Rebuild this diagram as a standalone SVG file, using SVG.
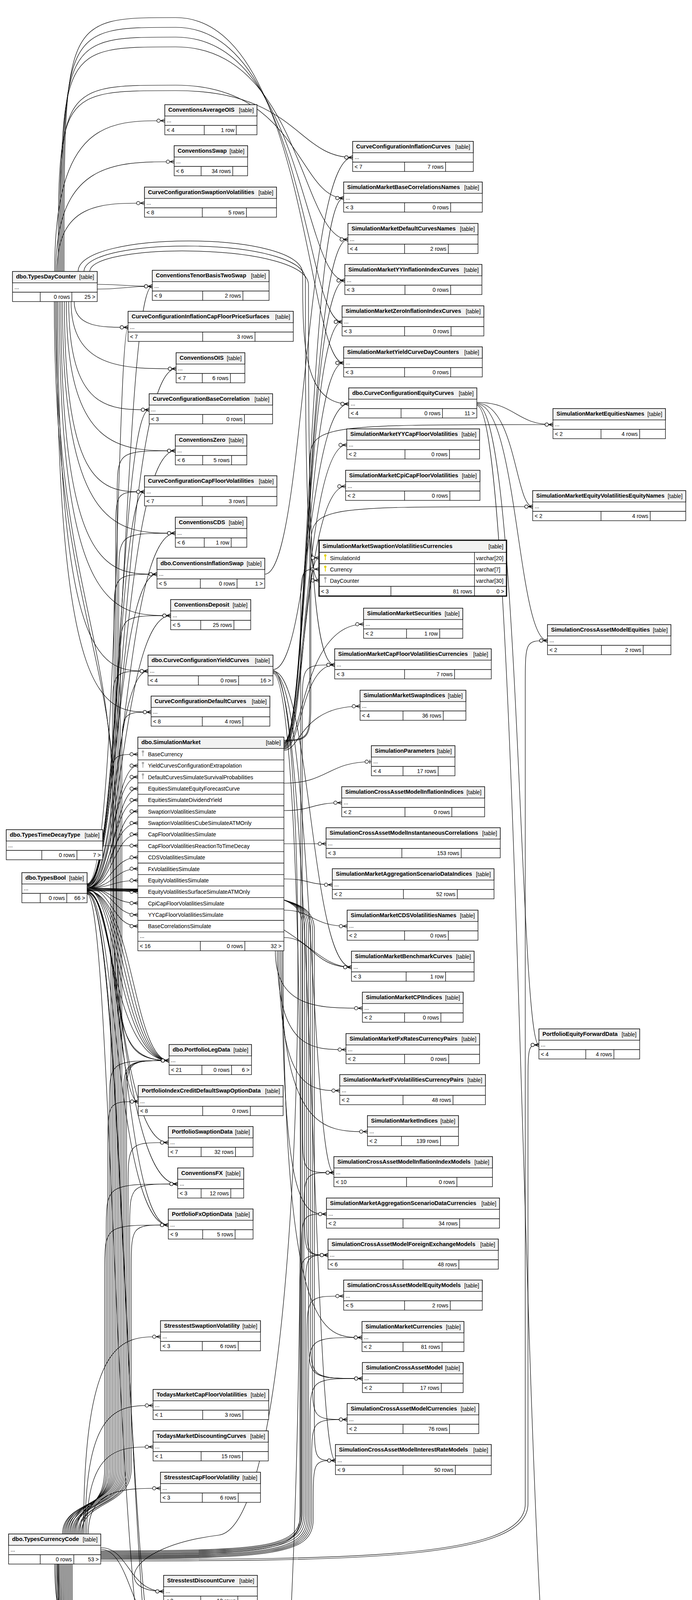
<svg xmlns="http://www.w3.org/2000/svg" width="1772" height="5764" viewBox="0 0 1772 5764">
<style>
text{font-family:"Liberation Sans",Arial,Helvetica,sans-serif;font-size:14px;fill:#000}
.b{font-weight:700;font-size:14.5px}
.e{text-anchor:end}
.w{fill:#fff;stroke:#000;stroke-width:1.3}
.h{fill:#f2f2f2;stroke:#000;stroke-width:1.3}
.l{fill:none;stroke:#000;stroke-width:1.3}
.c path{fill:none;stroke:#000;stroke-width:1.2;marker-end:url(#crow)}
.c path.o{marker-end:url(#one)}
.pk{fill:#e3d200}
.fk{fill:#aaa}
</style>
<defs>
<marker id="crow" markerUnits="userSpaceOnUse" markerWidth="30" markerHeight="16" viewBox="-25 -8 30 16" refX="0" refY="0" orient="auto">
<path d="M-11 0L0 -4.5M-11 0H0M-11 0L0 4.5" fill="none" stroke="#000" stroke-width="1.3"/>
<circle cx="-16" cy="0" r="4.3" fill="#fff" stroke="#000" stroke-width="1.3"/>
</marker>
<marker id="one" markerUnits="userSpaceOnUse" markerWidth="30" markerHeight="16" viewBox="-25 -8 30 16" refX="0" refY="0" orient="auto">
<path d="M-4 -5V5" fill="none" stroke="#000" stroke-width="1.5"/>
<circle cx="-12" cy="0" r="4.3" fill="#fff" stroke="#000" stroke-width="1.3"/>
</marker>
</defs>
<rect width="1772" height="5764" fill="#fff"/>
<g id="connectors" class="c">
<path d="M140 695C140 309 281 309 422 309"/>
<path d="M143 695C143 414 295 414 446 414"/>
<path d="M146 695C146 520 258 520 370 520"/>
<path d="M149 695C149 232 149 232 450 232C760 232 760 403 903 403"/>
<path d="M152 695C152 218 152 218 450 218C765 218 765 507 880 507"/>
<path d="M155 695C155 120 155 120 450 120C770 120 770 613 891 613"/>
<path d="M158 695C158 95 158 95 450 95C775 95 775 718 883 718"/>
<path d="M161 695C161 70 161 70 450 70C780 70 780 824 876 824"/>
<path d="M164 695C164 45 164 45 450 45C785 45 785 929 880 929"/>
<path d="M249 728C320 728 320 733 390 733"/>
<path d="M249 740C320 740 320 733 390 733"/>
<path d="M200 695C200 590 775 590 775 700C775 870 775 1034 893 1034"/>
<path d="M215 695C215 605 782 605 782 715C782 1100 782 1486 817 1486"/>
<path d="M230 695C230 620 790 620 790 730C790 1200 790 1702 857 1702"/>
<path d="M190 772C190 838 259 838 328 838"/>
<path d="M182 772C182 944 317 944 451 944"/>
<path d="M176 772C176 1049 279 1049 382 1049"/>
<path d="M170 772C170 1154 310 1154 449 1154"/>
<path d="M165 772C165 1259 268 1259 370 1259"/>
<path d="M160 772C160 1365 305 1365 449 1365"/>
<path d="M156 772C156 1470 279 1470 402 1470"/>
<path d="M152 772C152 1576 295 1576 437 1576"/>
<path d="M148 772C148 1718 264 1718 379 1718"/>
<path d="M145 772C145 1823 266 1823 387 1823"/>
<path d="M142 772C142 1500 290 1600 290 2100S290 2715 433 2715"/>
<path d="M139 772C139 1550 298 1650 298 2150S298 2712 433 2715"/>
<path d="M223 2262C318 2262 318 733 390 733"/>
<path d="M223 2263C300 2263 300 838 328 838"/>
<path d="M223 2264C314 2264 314 944 451 944"/>
<path d="M223 2265C306 2265 306 1049 382 1049"/>
<path d="M223 2266C310 2266 310 1154 449 1154"/>
<path d="M223 2267C302 2267 302 1259 370 1259"/>
<path d="M223 2268C316 2268 316 1365 449 1365"/>
<path d="M223 2269C298 2269 298 1470 402 1470"/>
<path d="M223 2270C312 2270 312 1576 437 1576"/>
<path d="M223 2271C294 2271 294 1718 379 1718"/>
<path d="M223 2273C290 2273 290 1960 353 1960"/>
<path d="M223 2273C286 2273 286 1989 353 1989"/>
<path d="M223 2273C292 2273 292 2019 353 2019"/>
<path d="M223 2273C288 2273 288 2048 353 2048"/>
<path d="M223 2273C294 2273 294 2077 353 2077"/>
<path d="M223 2273C284 2273 284 2107 353 2107"/>
<path d="M223 2273C290 2273 290 2136 353 2136"/>
<path d="M223 2273C286 2273 286 2195 353 2195"/>
<path d="M223 2273C292 2273 292 2224 353 2224"/>
<path d="M223 2273C288 2273 288 2254 353 2254"/>
<path d="M223 2273C294 2273 294 2283 353 2283"/>
<path d="M223 2273C284 2273 284 2312 353 2312"/>
<path d="M223 2273C290 2273 290 2342 353 2342"/>
<path d="M223 2273C286 2273 286 2371 353 2371"/>
<path d="M223 2276C300 2276 300 2715 433 2715"/>
<path d="M223 2277C310 2277 310 2715 433 2715"/>
<path d="M223 2278C320 2278 320 2715 433 2715"/>
<path d="M223 2279C330 2279 330 2715 433 2715"/>
<path d="M223 2280C340 2280 340 2715 433 2715"/>
<path d="M223 2281C285 2281 285 2715 433 2715"/>
<path d="M223 2282C300 2282 300 2820 354 2820"/>
<path d="M223 2283C305 2283 305 2925 431 2925"/>
<path d="M223 2284C310 2284 310 3031 455 3031"/>
<path d="M223 2285C315 2285 315 3136 431 3136"/>
<path d="M223 2286C296 2286 296 3136 431 3136"/>
<path d="M223 2287C320 2287 320 4390 434 4390"/>
<path d="M223 2288C325 2288 325 4496 431 4496"/>
<path d="M223 2289C292 2289 292 4496 431 4496"/>
<path d="M223 2274C770 2274 770 2476 900 2476"/>
<path d="M223 2275C700 2275 775 2285 775 2375L775 2882C775 3002 775 3002 855 3002"/>
<path d="M223 2276C700 2276 780 2286 780 2376L780 3093C780 3213 780 3213 840 3213"/>
<path d="M223 2277C700 2277 785 2287 785 2377L785 3093C785 3213 785 3213 840 3213"/>
<path d="M223 2278C700 2278 790 2288 790 2378L790 3409C790 3529 790 3529 928 3529"/>
<path d="M223 2279C700 2279 795 2289 795 2379L795 3409C795 3529 795 3529 928 3529"/>
<path d="M223 2280C700 2280 800 2290 800 2380L800 3514C800 3634 800 3634 889 3634"/>
<path d="M223 2281C700 2281 805 2291 805 2381L805 3619C805 3739 805 3739 859 3739"/>
<path d="M160 3927C160 3840 300 3860 300 3760L300 1274C300 1154 300 1154 449 1154"/>
<path d="M163 3927C163 3840 296 3860 296 3760L296 1379C296 1259 296 1259 370 1259"/>
<path d="M166 3927C166 3840 304 3860 304 3760L304 1485C304 1365 304 1365 449 1365"/>
<path d="M169 3927C169 3840 292 3860 292 3760L292 1590C292 1470 292 1470 402 1470"/>
<path d="M172 3927C172 3840 308 3860 308 3760L308 1696C308 1576 308 1576 437 1576"/>
<path d="M175 3927C175 3840 288 3860 288 3760L288 1838C288 1718 288 1718 379 1718"/>
<path d="M178 3927C178 3840 312 3860 312 3760L312 1943C312 1823 312 1823 387 1823"/>
<path d="M181 3927C181 3840 284 3860 284 3760L284 2051C284 1931 284 1931 353 1931"/>
<path d="M184 3927C184 3840 316 3860 316 3760L316 2835C316 2715 316 2715 433 2715"/>
<path d="M187 3927C187 3840 320 3860 320 3760L320 2835C320 2715 320 2715 433 2715"/>
<path d="M190 3927C190 3840 324 3860 324 3760L324 2835C324 2715 324 2715 433 2715"/>
<path d="M193 3927C193 3840 280 3860 280 3760L280 2835C280 2715 280 2715 433 2715"/>
<path d="M196 3927C196 3840 276 3860 276 3760L276 2940C276 2820 276 2820 354 2820"/>
<path d="M199 3927C199 3840 328 3860 328 3760L328 3045C328 2925 328 2925 431 2925"/>
<path d="M202 3927C202 3840 332 3860 332 3760L332 3151C332 3031 332 3031 455 3031"/>
<path d="M205 3927C205 3840 272 3860 272 3760L272 3151C272 3031 272 3031 455 3031"/>
<path d="M208 3927C208 3840 336 3860 336 3760L336 3256C336 3136 336 3136 431 3136"/>
<path d="M211 3927C211 3840 268 3860 268 3760L268 3256C268 3136 268 3136 431 3136"/>
<path d="M214 3927C214 3422 313 3422 411 3422"/>
<path d="M218 3927C218 3598 305 3598 392 3598"/>
<path d="M222 3927C222 3704 307 3704 392 3704"/>
<path d="M226 3927C226 3810 319 3810 411 3810"/>
<path d="M258 3962C330 3962 330 4074 419 4074"/>
<path d="M258 3966C336 3966 336 4180 425 4180"/>
<path d="M258 3970C700 3970 770 3960 770 3870L770 1577C770 1457 770 1457 817 1457"/>
<path d="M258 3972C700 3972 774 3962 774 3872L774 1822C774 1702 774 1702 857 1702"/>
<path d="M258 3974C700 3974 778 3964 778 3874L778 3122C778 3002 778 3002 855 3002"/>
<path d="M258 3976C700 3976 772 3966 772 3876L772 3228C772 3108 772 3108 836 3108"/>
<path d="M258 3978C700 3978 782 3968 782 3878L782 3333C782 3213 782 3213 840 3213"/>
<path d="M258 3980C700 3980 768 3970 768 3880L768 3333C768 3213 768 3213 840 3213"/>
<path d="M258 3982C700 3982 786 3972 786 3882L786 3438C786 3318 786 3318 880 3318"/>
<path d="M258 3984C700 3984 790 3974 790 3884L790 3544C790 3424 790 3424 927 3424"/>
<path d="M258 3986C700 3986 794 3976 794 3886L794 3649C794 3529 794 3529 928 3529"/>
<path d="M258 3988C700 3988 798 3978 798 3888L798 3754C798 3634 798 3634 889 3634"/>
<path d="M258 3990C700 3990 802 3980 802 3890L802 3859C802 3739 802 3739 859 3739"/>
<path d="M258 3992C900 3992 1345 3990 1345 3850L1345 1760C1345 1640 1345 1640 1402 1640"/>
<path d="M258 3996C900 3996 1352 3994 1352 3850L1352 2795C1352 2675 1352 2675 1380 2675"/>
<path d="M140 4004C140 4285 261 4285 381 4285"/>
<path d="M143 4004C143 4390 289 4390 434 4390"/>
<path d="M146 4004C146 4390 290 4390 434 4390"/>
<path d="M149 4004C149 4496 290 4496 431 4496"/>
<path d="M152 4004C152 4496 292 4496 431 4496"/>
<path d="M155 4004C155 4601 300 4601 445 4601"/>
<path d="M158 4004C158 4707 269 4707 379 4707"/>
<path d="M161 4004C161 4848 306 4848 451 4848"/>
<path d="M164 4004C164 4953 278 4953 392 4953"/>
<path d="M167 4004C167 5058 273 5058 379 5058"/>
<path d="M170 4004C170 5200 298 5200 426 5200"/>
<path d="M173 4004C173 5200 300 5200 426 5200"/>
<path d="M176 4004C176 5305 280 5305 383 5305"/>
<path d="M179 4004C179 5463 290 5463 401 5463"/>
<path d="M182 4004C182 5568 287 5568 392 5568"/>
<path d="M185 4004C185 5673 284 5673 383 5673"/>
<path d="M150 4004C160 5000 300 5392 520 5392C900 5392 1150 4590 1440 4590"/>
<path d="M147 4004C157 5020 296 5410 520 5410C910 5410 1160 4596 1440 4590"/>
<path d="M727 1900C790 1900 790 507 880 507"/>
<path d="M727 1902C788 1902 788 613 891 613"/>
<path d="M727 1904C786 1904 786 718 883 718"/>
<path d="M727 1906C784 1906 784 824 876 824"/>
<path d="M727 1908C782 1908 782 929 880 929"/>
<path d="M727 1910C780 1910 780 1139 888 1139"/>
<path d="M727 1912C778 1912 778 1245 885 1245"/>
<path d="M727 1914C776 1914 776 1428 817 1428"/>
<path d="M727 1916C774 1916 774 1598 931 1598"/>
<path d="M727 1918C772 1918 772 1702 857 1702"/>
<path d="M727 1921C770 1921 770 1808 922 1808"/>
<path class="o" d="M727 2005C840 2005 840 1950 951 1950"/>
<path d="M727 2075C800 2075 800 2055 875 2055"/>
<path d="M727 2160L835 2160"/>
<path d="M727 2250C790 2250 790 2265 851 2265"/>
<path d="M727 2330C800 2330 800 2371 889 2371"/>
<path d="M727 2400C800 2400 800 2476 900 2476"/>
<path d="M705 2434C705 2581 817 2581 928 2581"/>
<path d="M710 2434C710 2687 798 2687 886 2687"/>
<path d="M714 2434C714 2792 792 2792 870 2792"/>
<path d="M718 2434C718 2897 830 2897 941 2897"/>
<path d="M722 2434C722 3108 779 3108 836 3108"/>
<path d="M725 2434C725 3424 826 3424 927 3424"/>
<path d="M727 1895C790 1895 793 1885 793 1800L793 1200C793 1087 793 1087 1416 1087"/>
<path d="M727 1897C790 1897 796 1887 796 1800L796 1410C796 1297 796 1297 1364 1297"/>
<path d="M699 1714C790 1714 790 1034 893 1034"/>
<path d="M699 1718C795 1718 795 2476 900 2476"/>
<path d="M699 1720C798 1720 798 3002 855 3002"/>
<path d="M699 1722C800 1722 800 3739 859 3739"/>
<path d="M699 1716C800 1716 800 3900 560 3930C320 3960 290 4074 419 4074"/>
<path d="M699 1724C805 1724 805 5090 600 5115C330 5148 300 5568 392 5568"/>
<path d="M678 1470C780 1470 780 403 903 403"/>
<path d="M263 2165L353 2165"/>
<path d="M1221 1030C1320 1030 1320 1087 1416 1087"/>
<path d="M1221 1032C1320 1032 1320 1297 1364 1297"/>
<path d="M1221 1034C1325 1034 1325 1640 1402 1640"/>
<path d="M1221 1036C1330 1036 1330 2675 1380 2675"/>
<path d="M1221 1038C1338 1038 1338 4590 1440 4590"/>
</g>

<g id="dbo.TypesDayCounter"><rect class="w" x="32" y="695" width="217" height="77"/><rect class="h" x="32" y="695" width="217" height="29"/><path class="l" d="M32 748H249M103 748V772M184 748V772"/><text class="b" x="41" y="713">dbo.TypesDayCounter</text><text class="e" x="241" y="714">[table]</text><text x="37" y="740">...</text><text class="e" x="179" y="765">0 rows</text><text class="e" x="244" y="765">25 &gt;</text></g>
<g id="dbo.TypesTimeDecayType"><rect class="w" x="16" y="2124" width="247" height="77"/><rect class="h" x="16" y="2124" width="247" height="29"/><path class="l" d="M16 2177H263M107 2177V2201M197 2177V2201"/><text class="b" x="25" y="2142">dbo.TypesTimeDecayType</text><text class="e" x="255" y="2143">[table]</text><text x="21" y="2169">...</text><text class="e" x="192" y="2194">0 rows</text><text class="e" x="258" y="2194">7 &gt;</text></g>
<g id="dbo.TypesBool"><rect class="w" x="56" y="2234" width="167" height="77"/><rect class="h" x="56" y="2234" width="167" height="29"/><path class="l" d="M56 2287H223M103 2287V2311M171 2287V2311"/><text class="b" x="65" y="2252">dbo.TypesBool</text><text class="e" x="215" y="2253">[table]</text><text x="61" y="2279">...</text><text class="e" x="166" y="2304">0 rows</text><text class="e" x="218" y="2304">66 &gt;</text></g>
<g id="dbo.TypesCurrencyCode"><rect class="w" x="22" y="3927" width="236" height="77"/><rect class="h" x="22" y="3927" width="236" height="29"/><path class="l" d="M22 3980H258M103 3980V4004M189 3980V4004"/><text class="b" x="31" y="3945">dbo.TypesCurrencyCode</text><text class="e" x="250" y="3946">[table]</text><text x="27" y="3972">...</text><text class="e" x="184" y="3997">0 rows</text><text class="e" x="253" y="3997">53 &gt;</text></g>

<g id="ConventionsAverageOIS"><rect class="w" x="422" y="268" width="236" height="77"/><rect class="h" x="422" y="268" width="236" height="29"/><path class="l" d="M422 321H658M523 321V345M605 321V345"/><text class="b" x="431" y="286">ConventionsAverageOIS</text><text class="e" x="650" y="287">[table]</text><text x="427" y="313">...</text><text x="427" y="338">&lt; 4</text><text class="e" x="600" y="338">1 row</text></g>
<g id="ConventionsSwap"><rect class="w" x="446" y="373" width="188" height="77"/><rect class="h" x="446" y="373" width="188" height="29"/><path class="l" d="M446 426H634M515 426V450M596 426V450"/><text class="b" x="455" y="391">ConventionsSwap</text><text class="e" x="626" y="392">[table]</text><text x="451" y="418">...</text><text x="451" y="443">&lt; 6</text><text class="e" x="591" y="443">34 rows</text></g>
<g id="CurveConfigurationSwaptionVolatilities"><rect class="w" x="370" y="479" width="338" height="77"/><rect class="h" x="370" y="479" width="338" height="29"/><path class="l" d="M370 532H708M518 532V556M631 532V556"/><text class="b" x="379" y="497">CurveConfigurationSwaptionVolatilities</text><text class="e" x="700" y="498">[table]</text><text x="375" y="524">...</text><text x="375" y="549">&lt; 8</text><text class="e" x="626" y="549">5 rows</text></g>
<g id="ConventionsTenorBasisTwoSwap"><rect class="w" x="390" y="692" width="299" height="77"/><rect class="h" x="390" y="692" width="299" height="29"/><path class="l" d="M390 745H689M519 745V769M622 745V769"/><text class="b" x="399" y="710">ConventionsTenorBasisTwoSwap</text><text class="e" x="681" y="711">[table]</text><text x="395" y="737">...</text><text x="395" y="762">&lt; 9</text><text class="e" x="617" y="762">2 rows</text></g>
<g id="CurveConfigurationInflationCapFloorPriceSurfaces"><rect class="w" x="328" y="797" width="423" height="77"/><rect class="h" x="328" y="797" width="423" height="29"/><path class="l" d="M328 850H751M519 850V874M653 850V874"/><text class="b" x="337" y="815">CurveConfigurationInflationCapFloorPriceSurfaces</text><text class="e" x="743" y="816">[table]</text><text x="333" y="842">...</text><text x="333" y="867">&lt; 7</text><text class="e" x="648" y="867">3 rows</text></g>
<g id="ConventionsOIS"><rect class="w" x="451" y="903" width="176" height="77"/><rect class="h" x="451" y="903" width="176" height="29"/><path class="l" d="M451 956H627M518 956V980M590 956V980"/><text class="b" x="460" y="921">ConventionsOIS</text><text class="e" x="619" y="922">[table]</text><text x="456" y="948">...</text><text x="456" y="973">&lt; 7</text><text class="e" x="585" y="973">6 rows</text></g>
<g id="CurveConfigurationBaseCorrelation"><rect class="w" x="382" y="1008" width="316" height="77"/><rect class="h" x="382" y="1008" width="316" height="29"/><path class="l" d="M382 1061H698M519 1061V1085M626 1061V1085"/><text class="b" x="391" y="1026">CurveConfigurationBaseCorrelation</text><text class="e" x="690" y="1027">[table]</text><text x="387" y="1053">...</text><text x="387" y="1078">&lt; 3</text><text class="e" x="621" y="1078">0 rows</text></g>
<g id="ConventionsZero"><rect class="w" x="449" y="1113" width="183" height="77"/><rect class="h" x="449" y="1113" width="183" height="29"/><path class="l" d="M449 1166H632M519 1166V1190M593 1166V1190"/><text class="b" x="458" y="1131">ConventionsZero</text><text class="e" x="624" y="1132">[table]</text><text x="454" y="1158">...</text><text x="454" y="1183">&lt; 6</text><text class="e" x="588" y="1183">5 rows</text></g>
<g id="CurveConfigurationCapFloorVolatilities"><rect class="w" x="370" y="1218" width="339" height="77"/><rect class="h" x="370" y="1218" width="339" height="29"/><path class="l" d="M370 1271H709M518 1271V1295M632 1271V1295"/><text class="b" x="379" y="1236">CurveConfigurationCapFloorVolatilities</text><text class="e" x="701" y="1237">[table]</text><text x="375" y="1263">...</text><text x="375" y="1288">&lt; 7</text><text class="e" x="627" y="1288">3 rows</text></g>
<g id="ConventionsCDS"><rect class="w" x="449" y="1324" width="183" height="77"/><rect class="h" x="449" y="1324" width="183" height="29"/><path class="l" d="M449 1377H632M523 1377V1401M592 1377V1401"/><text class="b" x="458" y="1342">ConventionsCDS</text><text class="e" x="624" y="1343">[table]</text><text x="454" y="1369">...</text><text x="454" y="1394">&lt; 6</text><text class="e" x="587" y="1394">1 row</text></g>
<g id="dbo.ConventionsInflationSwap"><rect class="w" x="402" y="1429" width="276" height="77"/><rect class="h" x="402" y="1429" width="276" height="29"/><path class="l" d="M402 1482H678M513 1482V1506M607 1482V1506"/><text class="b" x="411" y="1447">dbo.ConventionsInflationSwap</text><text class="e" x="670" y="1448">[table]</text><text x="407" y="1474">...</text><text x="407" y="1499">&lt; 5</text><text class="e" x="602" y="1499">0 rows</text><text class="e" x="673" y="1499">1 &gt;</text></g>
<g id="ConventionsDeposit"><rect class="w" x="437" y="1535" width="205" height="77"/><rect class="h" x="437" y="1535" width="205" height="29"/><path class="l" d="M437 1588H642M514 1588V1612M599 1588V1612"/><text class="b" x="446" y="1553">ConventionsDeposit</text><text class="e" x="634" y="1554">[table]</text><text x="442" y="1580">...</text><text x="442" y="1605">&lt; 5</text><text class="e" x="594" y="1605">25 rows</text></g>
<g id="dbo.CurveConfigurationYieldCurves"><rect class="w" x="379" y="1677" width="320" height="77"/><rect class="h" x="379" y="1677" width="320" height="29"/><path class="l" d="M379 1730H699M508 1730V1754M611 1730V1754"/><text class="b" x="388" y="1695">dbo.CurveConfigurationYieldCurves</text><text class="e" x="691" y="1696">[table]</text><text x="384" y="1722">...</text><text x="384" y="1747">&lt; 4</text><text class="e" x="606" y="1747">0 rows</text><text class="e" x="694" y="1747">16 &gt;</text></g>
<g id="CurveConfigurationDefaultCurves"><rect class="w" x="387" y="1782" width="304" height="77"/><rect class="h" x="387" y="1782" width="304" height="29"/><path class="l" d="M387 1835H691M518 1835V1859M622 1835V1859"/><text class="b" x="396" y="1800">CurveConfigurationDefaultCurves</text><text class="e" x="683" y="1801">[table]</text><text x="392" y="1827">...</text><text x="392" y="1852">&lt; 8</text><text class="e" x="617" y="1852">4 rows</text></g>

<g id="dbo.SimulationMarket">
<rect class="w" x="353" y="1887" width="374" height="547"/><rect class="h" x="353" y="1887" width="374" height="29"/>
<path class="l" d="M353 1945.35H727M353 1974.7H727M353 2004.05H727M353 2033.4H727M353 2062.75H727M353 2092.1H727M353 2121.45H727M353 2150.8H727M353 2180.15H727M353 2209.5H727M353 2238.85H727M353 2268.2H727M353 2297.55H727M353 2326.9H727M353 2356.25H727M353 2385.6H727M353 2409.6H727M513 2409.6V2434M627 2409.6V2434"/>
<circle class="fk" cx="366" cy="1924" r="3"/><rect class="fk" x="365" y="1926" width="2" height="10"/>
<circle class="fk" cx="366" cy="1953.35" r="3"/><rect class="fk" x="365" y="1955.35" width="2" height="10"/>
<circle class="fk" cx="366" cy="1982.7" r="3"/><rect class="fk" x="365" y="1984.7" width="2" height="10"/>
<text class="b" x="362" y="1905">dbo.SimulationMarket</text><text class="e" x="719" y="1906">[table]</text>
<text x="379" y="1936">BaseCurrency</text>
<text x="379" y="1965.35">YieldCurvesConfigurationExtrapolation</text>
<text x="379" y="1994.7">DefaultCurvesSimulateSurvivalProbabilities</text>
<text x="379" y="2024.05">EquitiesSimulateEquityForecastCurve</text>
<text x="379" y="2053.4">EquitiesSimulateDividendYield</text>
<text x="379" y="2082.75">SwaptionVolatilitiesSimulate</text>
<text x="379" y="2112.1">SwaptionVolatilitiesCubeSimulateATMOnly</text>
<text x="379" y="2141.45">CapFloorVolatilitiesSimulate</text>
<text x="379" y="2170.8">CapFloorVolatilitiesReactionToTimeDecay</text>
<text x="379" y="2200.15">CDSVolatilitiesSimulate</text>
<text x="379" y="2229.5">FxVolatilitiesSimulate</text>
<text x="379" y="2258.85">EquityVolatilitiesSimulate</text>
<text x="379" y="2288.2">EquityVolatilitiesSurfaceSimulateATMOnly</text>
<text x="379" y="2317.55">CpiCapFloorVolatilitiesSimulate</text>
<text x="379" y="2346.9">YYCapFloorVolatilitiesSimulate</text>
<text x="379" y="2376.25">BaseCorrelationsSimulate</text>
<text x="358" y="2401">...</text>
<text x="358" y="2427">&lt; 16</text><text class="e" x="622" y="2427">0 rows</text><text class="e" x="721" y="2427">32 &gt;</text>
</g>

<g id="dbo.PortfolioLegData"><rect class="w" x="433" y="2674" width="211" height="77"/><rect class="h" x="433" y="2674" width="211" height="29"/><path class="l" d="M433 2727H644M517 2727V2751M593 2727V2751"/><text class="b" x="442" y="2692">dbo.PortfolioLegData</text><text class="e" x="636" y="2693">[table]</text><text x="438" y="2719">...</text><text x="438" y="2744">&lt; 21</text><text class="e" x="588" y="2744">0 rows</text><text class="e" x="639" y="2744">6 &gt;</text></g>
<g id="PortfolioIndexCreditDefaultSwapOptionData"><rect class="w" x="354" y="2779" width="371" height="77"/><rect class="h" x="354" y="2779" width="371" height="29"/><path class="l" d="M354 2832H725M519 2832V2856M641 2832V2856"/><text class="b" x="363" y="2797">PortfolioIndexCreditDefaultSwapOptionData</text><text class="e" x="717" y="2798">[table]</text><text x="359" y="2824">...</text><text x="359" y="2849">&lt; 8</text><text class="e" x="636" y="2849">0 rows</text></g>
<g id="PortfolioSwaptionData"><rect class="w" x="431" y="2884" width="217" height="77"/><rect class="h" x="431" y="2884" width="217" height="29"/><path class="l" d="M431 2937H648M515 2937V2961M603 2937V2961"/><text class="b" x="440" y="2902">PortfolioSwaptionData</text><text class="e" x="640" y="2903">[table]</text><text x="436" y="2929">...</text><text x="436" y="2954">&lt; 7</text><text class="e" x="598" y="2954">32 rows</text></g>
<g id="ConventionsFX"><rect class="w" x="455" y="2990" width="169" height="77"/><rect class="h" x="455" y="2990" width="169" height="29"/><path class="l" d="M455 3043H624M515 3043V3067M591 3043V3067"/><text class="b" x="464" y="3008">ConventionsFX</text><text class="e" x="616" y="3009">[table]</text><text x="460" y="3035">...</text><text x="460" y="3060">&lt; 3</text><text class="e" x="586" y="3060">12 rows</text></g>
<g id="PortfolioFxOptionData"><rect class="w" x="431" y="3095" width="217" height="77"/><rect class="h" x="431" y="3095" width="217" height="29"/><path class="l" d="M431 3148H648M519 3148V3172M602 3148V3172"/><text class="b" x="440" y="3113">PortfolioFxOptionData</text><text class="e" x="640" y="3114">[table]</text><text x="436" y="3140">...</text><text x="436" y="3165">&lt; 9</text><text class="e" x="597" y="3165">5 rows</text></g>
<g id="StresstestSwaptionVolatility"><rect class="w" x="411" y="3381" width="256" height="77"/><rect class="h" x="411" y="3381" width="256" height="29"/><path class="l" d="M411 3434H667M518 3434V3458M610 3434V3458"/><text class="b" x="420" y="3399">StresstestSwaptionVolatility</text><text class="e" x="659" y="3400">[table]</text><text x="416" y="3426">...</text><text x="416" y="3451">&lt; 3</text><text class="e" x="605" y="3451">6 rows</text></g>
<g id="TodaysMarketCapFloorVolatilities"><rect class="w" x="392" y="3557" width="296" height="77"/><rect class="h" x="392" y="3557" width="296" height="29"/><path class="l" d="M392 3610H688M519 3610V3634M622 3610V3634"/><text class="b" x="401" y="3575">TodaysMarketCapFloorVolatilities</text><text class="e" x="680" y="3576">[table]</text><text x="397" y="3602">...</text><text x="397" y="3627">&lt; 1</text><text class="e" x="617" y="3627">3 rows</text></g>
<g id="TodaysMarketDiscountingCurves"><rect class="w" x="392" y="3663" width="295" height="77"/><rect class="h" x="392" y="3663" width="295" height="29"/><path class="l" d="M392 3716H687M515 3716V3740M621 3716V3740"/><text class="b" x="401" y="3681">TodaysMarketDiscountingCurves</text><text class="e" x="679" y="3682">[table]</text><text x="397" y="3708">...</text><text x="397" y="3733">&lt; 1</text><text class="e" x="616" y="3733">15 rows</text></g>
<g id="StresstestCapFloorVolatility"><rect class="w" x="411" y="3769" width="256" height="77"/><rect class="h" x="411" y="3769" width="256" height="29"/><path class="l" d="M411 3822H667M518 3822V3846M610 3822V3846"/><text class="b" x="420" y="3787">StresstestCapFloorVolatility</text><text class="e" x="659" y="3788">[table]</text><text x="416" y="3814">...</text><text x="416" y="3839">&lt; 3</text><text class="e" x="605" y="3839">6 rows</text></g>
<g id="StresstestDiscountCurve"><rect class="w" x="419" y="4033" width="240" height="77"/><rect class="h" x="419" y="4033" width="240" height="29"/><path class="l" d="M419 4086H659M514 4086V4110M609 4086V4110"/><text class="b" x="428" y="4051">StresstestDiscountCurve</text><text class="e" x="651" y="4052">[table]</text><text x="424" y="4078">...</text><text x="424" y="4103">&lt; 3</text><text class="e" x="604" y="4103">12 rows</text></g>
<g id="StresstestSwaptionShift"><rect class="w" x="425" y="4139" width="230" height="77"/><rect class="h" x="425" y="4139" width="230" height="29"/><path class="l" d="M425 4192H655M515 4192V4216M607 4192V4216"/><text class="b" x="434" y="4157">StresstestSwaptionShift</text><text class="e" x="647" y="4158">[table]</text><text x="430" y="4184">...</text><text x="430" y="4209">&lt; 3</text><text class="e" x="602" y="4209">24 rows</text></g>
<g id="CurveConfigurationEquityVolatilities"><rect class="w" x="381" y="4244" width="317" height="77"/><rect class="h" x="381" y="4244" width="317" height="29"/><path class="l" d="M381 4297H698M518 4297V4321M625 4297V4321"/><text class="b" x="390" y="4262">CurveConfigurationEquityVolatilities</text><text class="e" x="690" y="4263">[table]</text><text x="386" y="4289">...</text><text x="386" y="4314">&lt; 2</text><text class="e" x="620" y="4314">2 rows</text></g>
<g id="FixingDataDefinitions"><rect class="w" x="434" y="4349" width="212" height="77"/><rect class="h" x="434" y="4349" width="212" height="29"/><path class="l" d="M434 4402H646M515 4402V4426M602 4402V4426"/><text class="b" x="443" y="4367">FixingDataDefinitions</text><text class="e" x="638" y="4368">[table]</text><text x="439" y="4394">...</text><text x="439" y="4419">&lt; 3</text><text class="e" x="597" y="4419">28 rows</text></g>
<g id="MarketDataDefinitions"><rect class="w" x="431" y="4455" width="217" height="77"/><rect class="h" x="431" y="4455" width="217" height="29"/><path class="l" d="M431 4508H648M504 4508V4532M609 4508V4532"/><text class="b" x="440" y="4473">MarketDataDefinitions</text><text class="e" x="640" y="4474">[table]</text><text x="436" y="4500">...</text><text x="436" y="4525">&lt; 4</text><text class="e" x="604" y="4525">7.309 rows</text></g>
<g id="NettingCSADetails"><rect class="w" x="445" y="4560" width="191" height="77"/><rect class="h" x="445" y="4560" width="191" height="29"/><path class="l" d="M445 4613H636M515 4613V4637M596 4613V4637"/><text class="b" x="454" y="4578">NettingCSADetails</text><text class="e" x="628" y="4579">[table]</text><text x="450" y="4605">...</text><text x="450" y="4630">&lt; 5</text><text class="e" x="591" y="4630">42 rows</text></g>
<g id="NettingEligibleCollateralsCurrencies"><rect class="w" x="379" y="4666" width="320" height="77"/><rect class="h" x="379" y="4666" width="320" height="29"/><path class="l" d="M379 4719H699M514 4719V4743M629 4719V4743"/><text class="b" x="388" y="4684">NettingEligibleCollateralsCurrencies</text><text class="e" x="691" y="4685">[table]</text><text x="384" y="4711">...</text><text x="384" y="4736">&lt; 2</text><text class="e" x="624" y="4736">42 rows</text></g>
<g id="PortfolioBaskets"><rect class="w" x="451" y="4807" width="178" height="77"/><rect class="h" x="451" y="4807" width="178" height="29"/><path class="l" d="M451 4860H629M519 4860V4884M592 4860V4884"/><text class="b" x="460" y="4825">PortfolioBaskets</text><text class="e" x="621" y="4826">[table]</text><text x="456" y="4852">...</text><text x="456" y="4877">&lt; 3</text><text class="e" x="587" y="4877">0 rows</text></g>
<g id="TodaysMarketSwaptionVolatilities"><rect class="w" x="392" y="4912" width="296" height="77"/><rect class="h" x="392" y="4912" width="296" height="29"/><path class="l" d="M392 4965H688M519 4965V4989M622 4965V4989"/><text class="b" x="401" y="4930">TodaysMarketSwaptionVolatilities</text><text class="e" x="680" y="4931">[table]</text><text x="397" y="4957">...</text><text x="397" y="4982">&lt; 1</text><text class="e" x="617" y="4982">5 rows</text></g>
<g id="PortfolioForwardRateAgreementData"><rect class="w" x="379" y="5017" width="320" height="77"/><rect class="h" x="379" y="5017" width="320" height="29"/><path class="l" d="M379 5070H699M521 5070V5094M625 5070V5094"/><text class="b" x="388" y="5035">PortfolioForwardRateAgreementData</text><text class="e" x="691" y="5036">[table]</text><text x="384" y="5062">...</text><text x="384" y="5087">&lt; 4</text><text class="e" x="620" y="5087">1 row</text></g>
<g id="PortfolioFxForwardData"><rect class="w" x="426" y="5159" width="228" height="77"/><rect class="h" x="426" y="5159" width="228" height="29"/><path class="l" d="M426 5212H654M519 5212V5236M604 5212V5236"/><text class="b" x="435" y="5177">PortfolioFxForwardData</text><text class="e" x="646" y="5178">[table]</text><text x="431" y="5204">...</text><text x="431" y="5229">&lt; 3</text><text class="e" x="599" y="5229">2 rows</text></g>
<g id="SensitivityanalysisCapFloorVolatility"><rect class="w" x="383" y="5264" width="313" height="77"/><rect class="h" x="383" y="5264" width="313" height="29"/><path class="l" d="M383 5317H696M519 5317V5341M625 5317V5341"/><text class="b" x="392" y="5282">SensitivityanalysisCapFloorVolatility</text><text class="e" x="688" y="5283">[table]</text><text x="388" y="5309">...</text><text x="388" y="5334">&lt; 4</text><text class="e" x="620" y="5334">6 rows</text></g>
<g id="SensitivityanalysisCreditCurve"><rect class="w" x="401" y="5422" width="276" height="77"/><rect class="h" x="401" y="5422" width="276" height="29"/><path class="l" d="M401 5475H677M518 5475V5499M615 5475V5499"/><text class="b" x="410" y="5440">SensitivityanalysisCreditCurve</text><text class="e" x="669" y="5441">[table]</text><text x="406" y="5467">...</text><text x="406" y="5492">&lt; 4</text><text class="e" x="610" y="5492">4 rows</text></g>
<g id="SensitivityanalysisDiscountCurve"><rect class="w" x="392" y="5527" width="296" height="77"/><rect class="h" x="392" y="5527" width="296" height="29"/><path class="l" d="M392 5580H688M515 5580V5604M622 5580V5604"/><text class="b" x="401" y="5545">SensitivityanalysisDiscountCurve</text><text class="e" x="680" y="5546">[table]</text><text x="397" y="5572">...</text><text x="397" y="5597">&lt; 3</text><text class="e" x="617" y="5597">12 rows</text></g>
<g id="SensitivityanalysisSwaptionVolatility"><rect class="w" x="383" y="5632" width="313" height="77"/><rect class="h" x="383" y="5632" width="313" height="29"/><path class="l" d="M383 5685H696M519 5685V5709M625 5685V5709"/><text class="b" x="392" y="5650">SensitivityanalysisSwaptionVolatility</text><text class="e" x="688" y="5651">[table]</text><text x="388" y="5677">...</text><text x="388" y="5702">&lt; 3</text><text class="e" x="620" y="5702">3 rows</text></g>

<g id="CurveConfigurationInflationCurves"><rect class="w" x="903" y="362" width="309" height="77"/><rect class="h" x="903" y="362" width="309" height="29"/><path class="l" d="M903 415H1212M1036 415V439M1141 415V439"/><text class="b" x="912" y="380">CurveConfigurationInflationCurves</text><text class="e" x="1204" y="381">[table]</text><text x="908" y="407">...</text><text x="908" y="432">&lt; 7</text><text class="e" x="1136" y="432">7 rows</text></g>
<g id="SimulationMarketBaseCorrelationsNames"><rect class="w" x="880" y="466" width="355" height="77"/><rect class="h" x="880" y="466" width="355" height="29"/><path class="l" d="M880 519H1235M1036 519V543M1154 519V543"/><text class="b" x="889" y="484">SimulationMarketBaseCorrelationsNames</text><text class="e" x="1227" y="485">[table]</text><text x="885" y="511">...</text><text x="885" y="536">&lt; 3</text><text class="e" x="1149" y="536">0 rows</text></g>
<g id="SimulationMarketDefaultCurvesNames"><rect class="w" x="891" y="572" width="333" height="77"/><rect class="h" x="891" y="572" width="333" height="29"/><path class="l" d="M891 625H1224M1036 625V649M1148 625V649"/><text class="b" x="900" y="590">SimulationMarketDefaultCurvesNames</text><text class="e" x="1216" y="591">[table]</text><text x="896" y="617">...</text><text x="896" y="642">&lt; 4</text><text class="e" x="1143" y="642">2 rows</text></g>
<g id="SimulationMarketYYInflationIndexCurves"><rect class="w" x="883" y="677" width="351" height="77"/><rect class="h" x="883" y="677" width="351" height="29"/><path class="l" d="M883 730H1234M1037 730V754M1154 730V754"/><text class="b" x="892" y="695">SimulationMarketYYInflationIndexCurves</text><text class="e" x="1226" y="696">[table]</text><text x="888" y="722">...</text><text x="888" y="747">&lt; 3</text><text class="e" x="1149" y="747">0 rows</text></g>
<g id="SimulationMarketZeroInflationIndexCurves"><rect class="w" x="876" y="783" width="363" height="77"/><rect class="h" x="876" y="783" width="363" height="29"/><path class="l" d="M876 836H1239M1036 836V860M1155 836V860"/><text class="b" x="885" y="801">SimulationMarketZeroInflationIndexCurves</text><text class="e" x="1231" y="802">[table]</text><text x="881" y="828">...</text><text x="881" y="853">&lt; 3</text><text class="e" x="1150" y="853">0 rows</text></g>
<g id="SimulationMarketYieldCurveDayCounters"><rect class="w" x="880" y="888" width="355" height="77"/><rect class="h" x="880" y="888" width="355" height="29"/><path class="l" d="M880 941H1235M1036 941V965M1154 941V965"/><text class="b" x="889" y="906">SimulationMarketYieldCurveDayCounters</text><text class="e" x="1227" y="907">[table]</text><text x="885" y="933">...</text><text x="885" y="958">&lt; 3</text><text class="e" x="1149" y="958">0 rows</text></g>
<g id="dbo.CurveConfigurationEquityCurves"><rect class="w" x="893" y="993" width="328" height="77"/><rect class="h" x="893" y="993" width="328" height="29"/><path class="l" d="M893 1046H1221M1027 1046V1070M1133 1046V1070"/><text class="b" x="902" y="1011">dbo.CurveConfigurationEquityCurves</text><text class="e" x="1213" y="1012">[table]</text><text x="898" y="1038">...</text><text x="898" y="1063">&lt; 4</text><text class="e" x="1128" y="1063">0 rows</text><text class="e" x="1216" y="1063">11 &gt;</text></g>
<g id="SimulationMarketYYCapFloorVolatilities"><rect class="w" x="888" y="1098" width="340" height="77"/><rect class="h" x="888" y="1098" width="340" height="29"/><path class="l" d="M888 1151H1228M1037 1151V1175M1151 1151V1175"/><text class="b" x="897" y="1116">SimulationMarketYYCapFloorVolatilities</text><text class="e" x="1220" y="1117">[table]</text><text x="893" y="1143">...</text><text x="893" y="1168">&lt; 2</text><text class="e" x="1146" y="1168">0 rows</text></g>
<g id="SimulationMarketCpiCapFloorVolatilities"><rect class="w" x="885" y="1204" width="344" height="77"/><rect class="h" x="885" y="1204" width="344" height="29"/><path class="l" d="M885 1257H1229M1036 1257V1281M1152 1257V1281"/><text class="b" x="894" y="1222">SimulationMarketCpiCapFloorVolatilities</text><text class="e" x="1221" y="1223">[table]</text><text x="890" y="1249">...</text><text x="890" y="1274">&lt; 2</text><text class="e" x="1147" y="1274">0 rows</text></g>

<g id="SimulationMarketSwaptionVolatilitiesCurrencies">
<rect x="817" y="1383" width="480" height="143" fill="#fff"/><rect x="817" y="1383" width="480" height="31" fill="#f2f2f2"/>
<path class="l" d="M817 1414H1297M817 1443H1297M817 1472H1297M817 1501H1297M1215 1414V1526M1001 1501V1526"/>
<rect x="817" y="1383" width="480" height="143" fill="none" stroke="#000" stroke-width="3"/>
<circle class="pk" cx="833" cy="1422" r="3"/><rect class="pk" x="832" y="1424" width="2" height="10"/>
<circle class="pk" cx="833" cy="1451" r="3"/><rect class="pk" x="832" y="1453" width="2" height="10"/>
<circle class="fk" cx="833" cy="1480" r="3"/><rect class="fk" x="832" y="1482" width="2" height="10"/>
<text class="b" x="826" y="1403">SimulationMarketSwaptionVolatilitiesCurrencies</text><text class="e" x="1289" y="1404">[table]</text>
<text x="845" y="1434">SimulationId</text><text x="1219" y="1434">varchar[20]</text>
<text x="845" y="1463">Currency</text><text x="1219" y="1463">varchar[7]</text>
<text x="845" y="1492">DayCounter</text><text x="1219" y="1492">varchar[30]</text>
<text x="822" y="1519">&lt; 3</text><text class="e" x="1209" y="1519">81 rows</text><text class="e" x="1291" y="1519">0 &gt;</text>
</g>

<g id="SimulationMarketSecurities"><rect class="w" x="931" y="1557" width="254" height="77"/><rect class="h" x="931" y="1557" width="254" height="29"/><path class="l" d="M931 1610H1185M1041 1610V1634M1126 1610V1634"/><text class="b" x="940" y="1575">SimulationMarketSecurities</text><text class="e" x="1177" y="1576">[table]</text><text x="936" y="1602">...</text><text x="936" y="1627">&lt; 2</text><text class="e" x="1121" y="1627">1 row</text></g>
<g id="SimulationMarketCapFloorVolatilitiesCurrencies"><rect class="w" x="857" y="1661" width="401" height="77"/><rect class="h" x="857" y="1661" width="401" height="29"/><path class="l" d="M857 1714H1258M1036 1714V1738M1164 1714V1738"/><text class="b" x="866" y="1679">SimulationMarketCapFloorVolatilitiesCurrencies</text><text class="e" x="1250" y="1680">[table]</text><text x="862" y="1706">...</text><text x="862" y="1731">&lt; 3</text><text class="e" x="1159" y="1731">7 rows</text></g>
<g id="SimulationMarketSwapIndices"><rect class="w" x="922" y="1767" width="271" height="77"/><rect class="h" x="922" y="1767" width="271" height="29"/><path class="l" d="M922 1820H1193M1032 1820V1844M1135 1820V1844"/><text class="b" x="931" y="1785">SimulationMarketSwapIndices</text><text class="e" x="1185" y="1786">[table]</text><text x="927" y="1812">...</text><text x="927" y="1837">&lt; 4</text><text class="e" x="1130" y="1837">36 rows</text></g>
<g id="SimulationParameters"><rect class="w" x="951" y="1909" width="214" height="77"/><rect class="h" x="951" y="1909" width="214" height="29"/><path class="l" d="M951 1962H1165M1032 1962V1986M1122 1962V1986"/><text class="b" x="960" y="1927">SimulationParameters</text><text class="e" x="1157" y="1928">[table]</text><text x="956" y="1954">...</text><text x="956" y="1979">&lt; 4</text><text class="e" x="1117" y="1979">17 rows</text></g>
<g id="SimulationCrossAssetModelInflationIndices"><rect class="w" x="875" y="2014" width="366" height="77"/><rect class="h" x="875" y="2014" width="366" height="29"/><path class="l" d="M875 2067H1241M1037 2067V2091M1157 2067V2091"/><text class="b" x="884" y="2032">SimulationCrossAssetModelInflationIndices</text><text class="e" x="1233" y="2033">[table]</text><text x="880" y="2059">...</text><text x="880" y="2084">&lt; 2</text><text class="e" x="1152" y="2084">0 rows</text></g>
<g id="SimulationCrossAssetModelInstantaneousCorrelations"><rect class="w" x="835" y="2119" width="446" height="77"/><rect class="h" x="835" y="2119" width="446" height="29"/><path class="l" d="M835 2172H1281M1029 2172V2196M1181 2172V2196"/><text class="b" x="844" y="2137">SimulationCrossAssetModelInstantaneousCorrelations</text><text class="e" x="1273" y="2138">[table]</text><text x="840" y="2164">...</text><text x="840" y="2189">&lt; 3</text><text class="e" x="1176" y="2189">153 rows</text></g>
<g id="SimulationMarketAggregationScenarioDataIndices"><rect class="w" x="851" y="2224" width="414" height="77"/><rect class="h" x="851" y="2224" width="414" height="29"/><path class="l" d="M851 2277H1265M1033 2277V2301M1171 2277V2301"/><text class="b" x="860" y="2242">SimulationMarketAggregationScenarioDataIndices</text><text class="e" x="1257" y="2243">[table]</text><text x="856" y="2269">...</text><text x="856" y="2294">&lt; 2</text><text class="e" x="1166" y="2294">52 rows</text></g>
<g id="SimulationMarketCDSVolatilitiesNames"><rect class="w" x="889" y="2330" width="335" height="77"/><rect class="h" x="889" y="2330" width="335" height="29"/><path class="l" d="M889 2383H1224M1036 2383V2407M1148 2383V2407"/><text class="b" x="898" y="2348">SimulationMarketCDSVolatilitiesNames</text><text class="e" x="1216" y="2349">[table]</text><text x="894" y="2375">...</text><text x="894" y="2400">&lt; 2</text><text class="e" x="1143" y="2400">0 rows</text></g>
<g id="SimulationMarketBenchmarkCurves"><rect class="w" x="900" y="2435" width="314" height="77"/><rect class="h" x="900" y="2435" width="314" height="29"/><path class="l" d="M900 2488H1214M1040 2488V2512M1141 2488V2512"/><text class="b" x="909" y="2453">SimulationMarketBenchmarkCurves</text><text class="e" x="1206" y="2454">[table]</text><text x="905" y="2480">...</text><text x="905" y="2505">&lt; 3</text><text class="e" x="1136" y="2505">1 row</text></g>
<g id="SimulationMarketCPIIndices"><rect class="w" x="928" y="2540" width="258" height="77"/><rect class="h" x="928" y="2540" width="258" height="29"/><path class="l" d="M928 2593H1186M1036 2593V2617M1129 2593V2617"/><text class="b" x="937" y="2558">SimulationMarketCPIIndices</text><text class="e" x="1178" y="2559">[table]</text><text x="933" y="2585">...</text><text x="933" y="2610">&lt; 2</text><text class="e" x="1124" y="2610">0 rows</text></g>
<g id="SimulationMarketFxRatesCurrencyPairs"><rect class="w" x="886" y="2646" width="342" height="77"/><rect class="h" x="886" y="2646" width="342" height="29"/><path class="l" d="M886 2699H1228M1036 2699V2723M1149 2699V2723"/><text class="b" x="895" y="2664">SimulationMarketFxRatesCurrencyPairs</text><text class="e" x="1220" y="2665">[table]</text><text x="891" y="2691">...</text><text x="891" y="2716">&lt; 2</text><text class="e" x="1144" y="2716">0 rows</text></g>
<g id="SimulationMarketFxVolatilitiesCurrencyPairs"><rect class="w" x="870" y="2751" width="373" height="77"/><rect class="h" x="870" y="2751" width="373" height="29"/><path class="l" d="M870 2804H1243M1032 2804V2828M1160 2804V2828"/><text class="b" x="879" y="2769">SimulationMarketFxVolatilitiesCurrencyPairs</text><text class="e" x="1235" y="2770">[table]</text><text x="875" y="2796">...</text><text x="875" y="2821">&lt; 2</text><text class="e" x="1155" y="2821">48 rows</text></g>
<g id="SimulationMarketIndices"><rect class="w" x="941" y="2856" width="233" height="77"/><rect class="h" x="941" y="2856" width="233" height="29"/><path class="l" d="M941 2909H1174M1028 2909V2933M1128 2909V2933"/><text class="b" x="950" y="2874">SimulationMarketIndices</text><text class="e" x="1166" y="2875">[table]</text><text x="946" y="2901">...</text><text x="946" y="2926">&lt; 2</text><text class="e" x="1123" y="2926">139 rows</text></g>
<g id="SimulationCrossAssetModelInflationIndexModels"><rect class="w" x="855" y="2961" width="406" height="77"/><rect class="h" x="855" y="2961" width="406" height="29"/><path class="l" d="M855 3014H1261M1041 3014V3038M1170 3014V3038"/><text class="b" x="864" y="2979">SimulationCrossAssetModelInflationIndexModels</text><text class="e" x="1253" y="2980">[table]</text><text x="860" y="3006">...</text><text x="860" y="3031">&lt; 10</text><text class="e" x="1165" y="3031">0 rows</text></g>
<g id="SimulationMarketAggregationScenarioDataCurrencies"><rect class="w" x="836" y="3067" width="443" height="77"/><rect class="h" x="836" y="3067" width="443" height="29"/><path class="l" d="M836 3120H1279M1032 3120V3144M1177 3120V3144"/><text class="b" x="845" y="3085">SimulationMarketAggregationScenarioDataCurrencies</text><text class="e" x="1271" y="3086">[table]</text><text x="841" y="3112">...</text><text x="841" y="3137">&lt; 2</text><text class="e" x="1172" y="3137">34 rows</text></g>
<g id="SimulationCrossAssetModelForeignExchangeModels"><rect class="w" x="840" y="3172" width="436" height="77"/><rect class="h" x="840" y="3172" width="436" height="29"/><path class="l" d="M840 3225H1276M1032 3225V3249M1175 3225V3249"/><text class="b" x="849" y="3190">SimulationCrossAssetModelForeignExchangeModels</text><text class="e" x="1268" y="3191">[table]</text><text x="845" y="3217">...</text><text x="845" y="3242">&lt; 6</text><text class="e" x="1170" y="3242">48 rows</text></g>
<g id="SimulationCrossAssetModelEquityModels"><rect class="w" x="880" y="3277" width="355" height="77"/><rect class="h" x="880" y="3277" width="355" height="29"/><path class="l" d="M880 3330H1235M1036 3330V3354M1153 3330V3354"/><text class="b" x="889" y="3295">SimulationCrossAssetModelEquityModels</text><text class="e" x="1227" y="3296">[table]</text><text x="885" y="3322">...</text><text x="885" y="3347">&lt; 5</text><text class="e" x="1148" y="3347">2 rows</text></g>
<g id="SimulationMarketCurrencies"><rect class="w" x="927" y="3383" width="261" height="77"/><rect class="h" x="927" y="3383" width="261" height="29"/><path class="l" d="M927 3436H1188M1032 3436V3460M1132 3436V3460"/><text class="b" x="936" y="3401">SimulationMarketCurrencies</text><text class="e" x="1180" y="3402">[table]</text><text x="932" y="3428">...</text><text x="932" y="3453">&lt; 2</text><text class="e" x="1127" y="3453">81 rows</text></g>
<g id="SimulationCrossAssetModel"><rect class="w" x="928" y="3488" width="258" height="77"/><rect class="h" x="928" y="3488" width="258" height="29"/><path class="l" d="M928 3541H1186M1032 3541V3565M1130 3541V3565"/><text class="b" x="937" y="3506">SimulationCrossAssetModel</text><text class="e" x="1178" y="3507">[table]</text><text x="933" y="3533">...</text><text x="933" y="3558">&lt; 2</text><text class="e" x="1125" y="3558">17 rows</text></g>
<g id="SimulationCrossAssetModelCurrencies"><rect class="w" x="889" y="3593" width="337" height="77"/><rect class="h" x="889" y="3593" width="337" height="29"/><path class="l" d="M889 3646H1226M1032 3646V3670M1151 3646V3670"/><text class="b" x="898" y="3611">SimulationCrossAssetModelCurrencies</text><text class="e" x="1218" y="3612">[table]</text><text x="894" y="3638">...</text><text x="894" y="3663">&lt; 2</text><text class="e" x="1146" y="3663">76 rows</text></g>
<g id="SimulationCrossAssetModelInterestRateModels"><rect class="w" x="859" y="3698" width="399" height="77"/><rect class="h" x="859" y="3698" width="399" height="29"/><path class="l" d="M859 3751H1258M1032 3751V3775M1166 3751V3775"/><text class="b" x="868" y="3716">SimulationCrossAssetModelInterestRateModels</text><text class="e" x="1250" y="3717">[table]</text><text x="864" y="3743">...</text><text x="864" y="3768">&lt; 9</text><text class="e" x="1161" y="3768">50 rows</text></g>

<g id="SimulationMarketEquitiesNames"><rect class="w" x="1416" y="1046" width="288" height="77"/><rect class="h" x="1416" y="1046" width="288" height="29"/><path class="l" d="M1416 1099H1704M1539 1099V1123M1638 1099V1123"/><text class="b" x="1425" y="1064">SimulationMarketEquitiesNames</text><text class="e" x="1696" y="1065">[table]</text><text x="1421" y="1091">...</text><text x="1421" y="1116">&lt; 2</text><text class="e" x="1633" y="1116">4 rows</text></g>
<g id="SimulationMarketEquityVolatilitiesEquityNames"><rect class="w" x="1364" y="1256" width="392" height="77"/><rect class="h" x="1364" y="1256" width="392" height="29"/><path class="l" d="M1364 1309H1756M1539 1309V1333M1665 1309V1333"/><text class="b" x="1373" y="1274">SimulationMarketEquityVolatilitiesEquityNames</text><text class="e" x="1748" y="1275">[table]</text><text x="1369" y="1301">...</text><text x="1369" y="1326">&lt; 2</text><text class="e" x="1660" y="1326">4 rows</text></g>
<g id="SimulationCrossAssetModelEquities"><rect class="w" x="1402" y="1599" width="316" height="77"/><rect class="h" x="1402" y="1599" width="316" height="29"/><path class="l" d="M1402 1652H1718M1540 1652V1676M1647 1652V1676"/><text class="b" x="1411" y="1617">SimulationCrossAssetModelEquities</text><text class="e" x="1710" y="1618">[table]</text><text x="1407" y="1644">...</text><text x="1407" y="1669">&lt; 2</text><text class="e" x="1642" y="1669">2 rows</text></g>
<g id="PortfolioEquityForwardData"><rect class="w" x="1380" y="2634" width="258" height="77"/><rect class="h" x="1380" y="2634" width="258" height="29"/><path class="l" d="M1380 2687H1638M1500 2687V2711M1572 2687V2711"/><text class="b" x="1389" y="2652">PortfolioEquityForwardData</text><text class="e" x="1630" y="2653">[table]</text><text x="1385" y="2679">...</text><text x="1385" y="2704">&lt; 4</text><text class="e" x="1567" y="2704">4 rows</text></g>
<g id="PortfolioEquityOptionData"><rect class="w" x="1440" y="4549" width="252" height="77"/><rect class="h" x="1440" y="4549" width="252" height="29"/><path class="l" d="M1440 4602H1692M1556 4602V4626M1630 4602V4626"/><text class="b" x="1449" y="4567">PortfolioEquityOptionData</text><text class="e" x="1684" y="4568">[table]</text><text x="1445" y="4594">...</text><text x="1445" y="4619">&lt; 6</text><text class="e" x="1625" y="4619">10 rows</text></g>

<text x="8" y="5750" style="font-size:13px">Generated by SchemaSpy</text>
</svg>
